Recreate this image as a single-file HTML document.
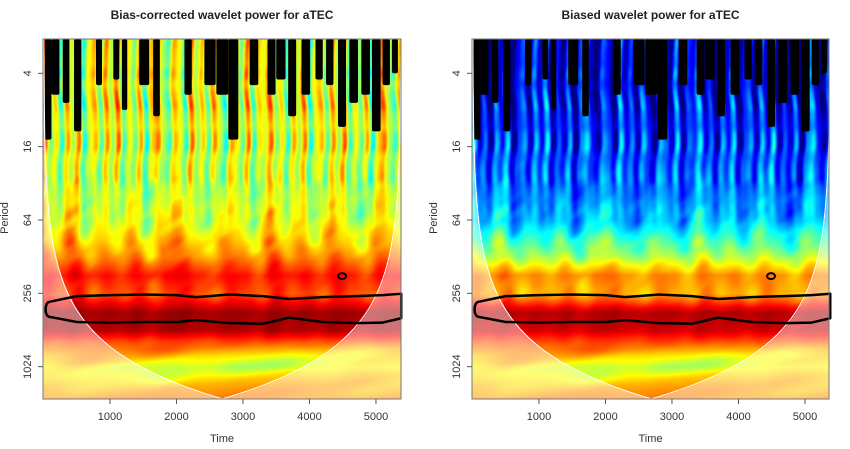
<!DOCTYPE html>
<html><head><meta charset="utf-8">
<style>
body{margin:0;background:#fff;width:850px;height:449px;overflow:hidden;font-family:"Liberation Sans",sans-serif;}
.wrap{position:relative;width:850px;height:449px;}
canvas{position:absolute;}
svg{position:absolute;left:0;top:0;}
</style></head><body>
<div class="wrap">
<canvas id="c1" width="358" height="360" style="left:43px;top:39px"></canvas>
<canvas id="c2" width="357" height="360" style="left:472px;top:39px"></canvas>
<svg id="ov" width="850" height="449"></svg>
</div>
<script>
// ---- data ----
const periodTicks=[4,16,64,256,1024];
const timeTicks=[1000,2000,3000,4000,5000];
const rowLog2=[1,2,3,4,5,6,6.5,7,7.5,8,8.5,9,9.3,9.7,10,10.5,11];
const rowLevelLeft=[0.6,0.6,0.6,0.58,0.56,0.6,0.66,0.74,0.86,0.8,0.97,0.95,0.8,0.66,0.6,0.7,0.76];
const rowLevelRight=[0.1,0.11,0.14,0.18,0.23,0.31,0.43,0.55,0.74,0.7,0.95,0.92,0.8,0.66,0.6,0.7,0.76];
const rowAmp=[0.3,0.3,0.3,0.3,0.28,0.24,0.18,0.13,0.08,0.1,0.03,0.03,0.06,0.12,0.14,0.08,0.05];
const colFine=[0.9,-0.4,0.3,-0.8,0.6,-0.2,0.8,-0.9,0.1,0.5,-0.6,0.7,-0.3,0.95,-0.7,0.2,-0.5,0.6,-0.95,0.4,0.8,-0.2,-0.7,0.5,0.1,-0.8,0.9,-0.3,0.4,-0.6,0.7,-0.1,-0.9,0.6,0.2,-0.5,0.85,-0.75,0.3,0.0];
const colFine2=[0.5,-0.7,0.2,0.8,-0.4,-0.9,0.6,0.1,-0.3,0.7,-0.6,0.4,0.9,-0.2,-0.8,0.3];
const streakStart=[20,120,290,460,790,1050,1180,1440,1650,2120,2420,2600,2780,3100,3370,3500,3680,3880,4090,4250,4430,4600,4780,4940,5100,5240];
const streakEnd=[120,240,390,570,880,1140,1260,1590,1750,2230,2590,2780,2930,3230,3490,3640,3800,4010,4200,4360,4550,4730,4910,5070,5210,5330];
const streakBottomL=[14,6,7,12,5,4.5,8,5,9,6,5,6,14,5,6,4.5,9,6,4.5,5,11,7,6,12,5,4];
const streakBottomR=[14,6,7,12,5,4.5,8,5,9,6,5,6,14,5,6,4.5,9,6,4.5,5,11,7,6,12,5,4];
const contourT=[100,500,1000,1500,2000,2300,2800,3300,3700,4200,4700,5100,5380];
const contourUpper=[300,270,265,262,265,275,262,270,285,275,270,265,258];
const contourLower=[400,440,445,440,440,425,450,455,405,440,450,445,410];
const circleT=4490, circleP=185;
const coiK=0.7, tMax=5380;

const NS="http://www.w3.org/2000/svg";
const ov=document.getElementById('ov');
const PH=360, ppo=36.67;
function yOf(p,top){return 73.3-39+ (Math.log2(p)-2)*ppo + top;}
function lpOfRow(r){return 2+(r+39-73.3)/ppo;}
function interp(xs,ys,x){if(x<=xs[0])return ys[0];for(let i=1;i<xs.length;i++){if(x<=xs[i]){const f=(x-xs[i-1])/(xs[i]-xs[i-1]);return ys[i-1]+f*(ys[i]-ys[i-1]);}}return ys[ys.length-1];}
function cyc(a,x){const n=a.length;x=((x%n)+n)%n;const i=Math.floor(x),f=x-i;const s=(1-Math.cos(f*Math.PI))/2;return a[i]*(1-s)+a[(i+1)%n]*s;}
function cl(v){return Math.max(0,Math.min(1,v));}
function jet(v){v=cl(v);return [cl(1.5-Math.abs(4*v-3)),cl(1.5-Math.abs(4*v-2)),cl(1.5-Math.abs(4*v-1))];}

function mk(tag,attrs,name,parent){const e=document.createElementNS(NS,tag);for(const k in attrs)e.setAttribute(k,attrs[k]);


(parent||ov).appendChild(e);return e;}

function panel(cid,left,width,levels,streakBottom,title,prefix){
  const c=document.getElementById(cid),ctx=c.getContext('2d');
  const img=ctx.createImageData(width,PH);const d=img.data;
  const tpp=1000/66.5;
  for(let r=0;r<PH;r++){
    const lp=lpOfRow(r);const base=interp(rowLog2,levels,lp),amp=interp(rowLog2,rowAmp,lp);
    const P=Math.pow(2,lp);
    const s=cl((lp-4)/2.5);
    const h=cl((lp-9)/0.5);
    const wob1=0.3*cyc(colFine2,lp*1.3), wob2=0.35*cyc(colFine2,lp*1.1+5);
    const vmod=0.7+0.3*cyc(colFine2,lp*3.5+2);
    for(let x=0;x<width;x++){
      const t=x*tpp-7;
      const a1=cyc(colFine,t/85+wob1);
      const a2=cyc(colFine,t/230+11+wob2)*(0.6+0.4*cyc(colFine2,lp*4+t/230));
      const a3=cyc(colFine2,lp*2.5+3+t/1500)*(0.6+0.4*cyc(colFine,t/600+3));
      let v=base+amp*(((1-s)*a1*vmod+s*a2)*(1-h)+h*a3)*0.95;
      let [R,G,B]=jet(v);
      const coi=coiK*Math.min(t,tMax-t);
      if(P>coi){R=R*0.55+0.45;G=G*0.55+0.45;B=B*0.55+0.45;}
      const k=(r*width+x)*4;d[k]=R*255;d[k+1]=G*255;d[k+2]=B*255;d[k+3]=255;
    }
  }
  ctx.putImageData(img,0,0);
  const sx=t=>left+(t+7)/1000*66.5;
  for(let i=0;i<streakStart.length;i++){
    const y0=39,y1=yOf(streakBottom[i],39);
    mk('rect',{x:sx(streakStart[i]),y:y0,width:sx(streakEnd[i])-sx(streakStart[i]),height:y1-y0,fill:'#000',rx:2},prefix+'-significance-streak');
  }
  let pts=[];for(let t=0;t<=tMax;t+=20){const p=Math.max(coiK*Math.min(t,tMax-t),0.1);let y=yOf(p,39);y=Math.max(39,Math.min(399,y));pts.push(sx(t).toFixed(1)+','+y.toFixed(1));}
  mk('polyline',{points:pts.join(' '),fill:'none',stroke:'#fff','stroke-width':1},prefix+'-cone-of-influence');
  let dstr='M'+sx(contourT[0])+','+yOf(contourUpper[0],39);
  for(let i=1;i<contourT.length;i++)dstr+=' L'+sx(contourT[i])+','+yOf(contourUpper[i],39);
  for(let i=contourT.length-1;i>=0;i--)dstr+=' L'+sx(contourT[i])+','+yOf(contourLower[i],39);
  dstr+=' C'+(left+1)+','+yOf(contourLower[0],39)+' '+(left+1)+','+yOf(contourUpper[0],39)+' '+sx(contourT[0])+','+yOf(contourUpper[0],39);
  mk('path',{d:dstr,fill:'none',stroke:'#000','stroke-width':2.5,'stroke-linejoin':'round'},prefix+'-significance-contour');
  mk('ellipse',{cx:sx(circleT),cy:yOf(circleP,39),rx:4,ry:3,fill:'none',stroke:'#000','stroke-width':2},prefix+'-significance-circle');
  mk('rect',{x:left,y:39,width:width,height:360,fill:'none',stroke:'#777','stroke-width':1},prefix+'-plot-frame');
  periodTicks.forEach(p=>{const y=yOf(p,39);
    mk('line',{x1:left-5,x2:left,y1:y,y2:y,stroke:'#555'},prefix+'-y-tick');
    const tx=mk('text',{x:left-12,y:y,'font-size':11,fill:'#333','text-anchor':'middle',transform:`rotate(-90 ${left-12} ${y})`,'font-family':'Liberation Sans, sans-serif'},prefix+'-y-tick-label');tx.textContent=p;});
  timeTicks.forEach(t=>{const x=sx(t);
    mk('line',{x1:x,x2:x,y1:399,y2:404,stroke:'#555'},prefix+'-x-tick');
    const tx=mk('text',{x:x,y:420,'font-size':11,fill:'#333','text-anchor':'middle','font-family':'Liberation Sans, sans-serif'},prefix+'-x-tick-label');tx.textContent=t;});
  const tt=mk('text',{x:left+width/2,y:19,'font-size':12,'font-weight':'bold',fill:'#222','text-anchor':'middle','font-family':'Liberation Sans, sans-serif'},prefix+'-title');tt.textContent=title;
  const xl=mk('text',{x:left+width/2,y:442,'font-size':11,fill:'#333','text-anchor':'middle','font-family':'Liberation Sans, sans-serif'},prefix+'-x-axis-title');xl.textContent='Time';
  const yl=mk('text',{x:left-35,y:218,'font-size':11,fill:'#333','text-anchor':'middle',transform:`rotate(-90 ${left-35} 218)`,'font-family':'Liberation Sans, sans-serif'},prefix+'-y-axis-title');yl.textContent='Period';
}
panel('c1',43,358,rowLevelLeft,streakBottomL,'Bias-corrected wavelet power for aTEC','left');
panel('c2',472,357,rowLevelRight,streakBottomR,'Biased wavelet power for aTEC','right');
</script>
</body></html>
